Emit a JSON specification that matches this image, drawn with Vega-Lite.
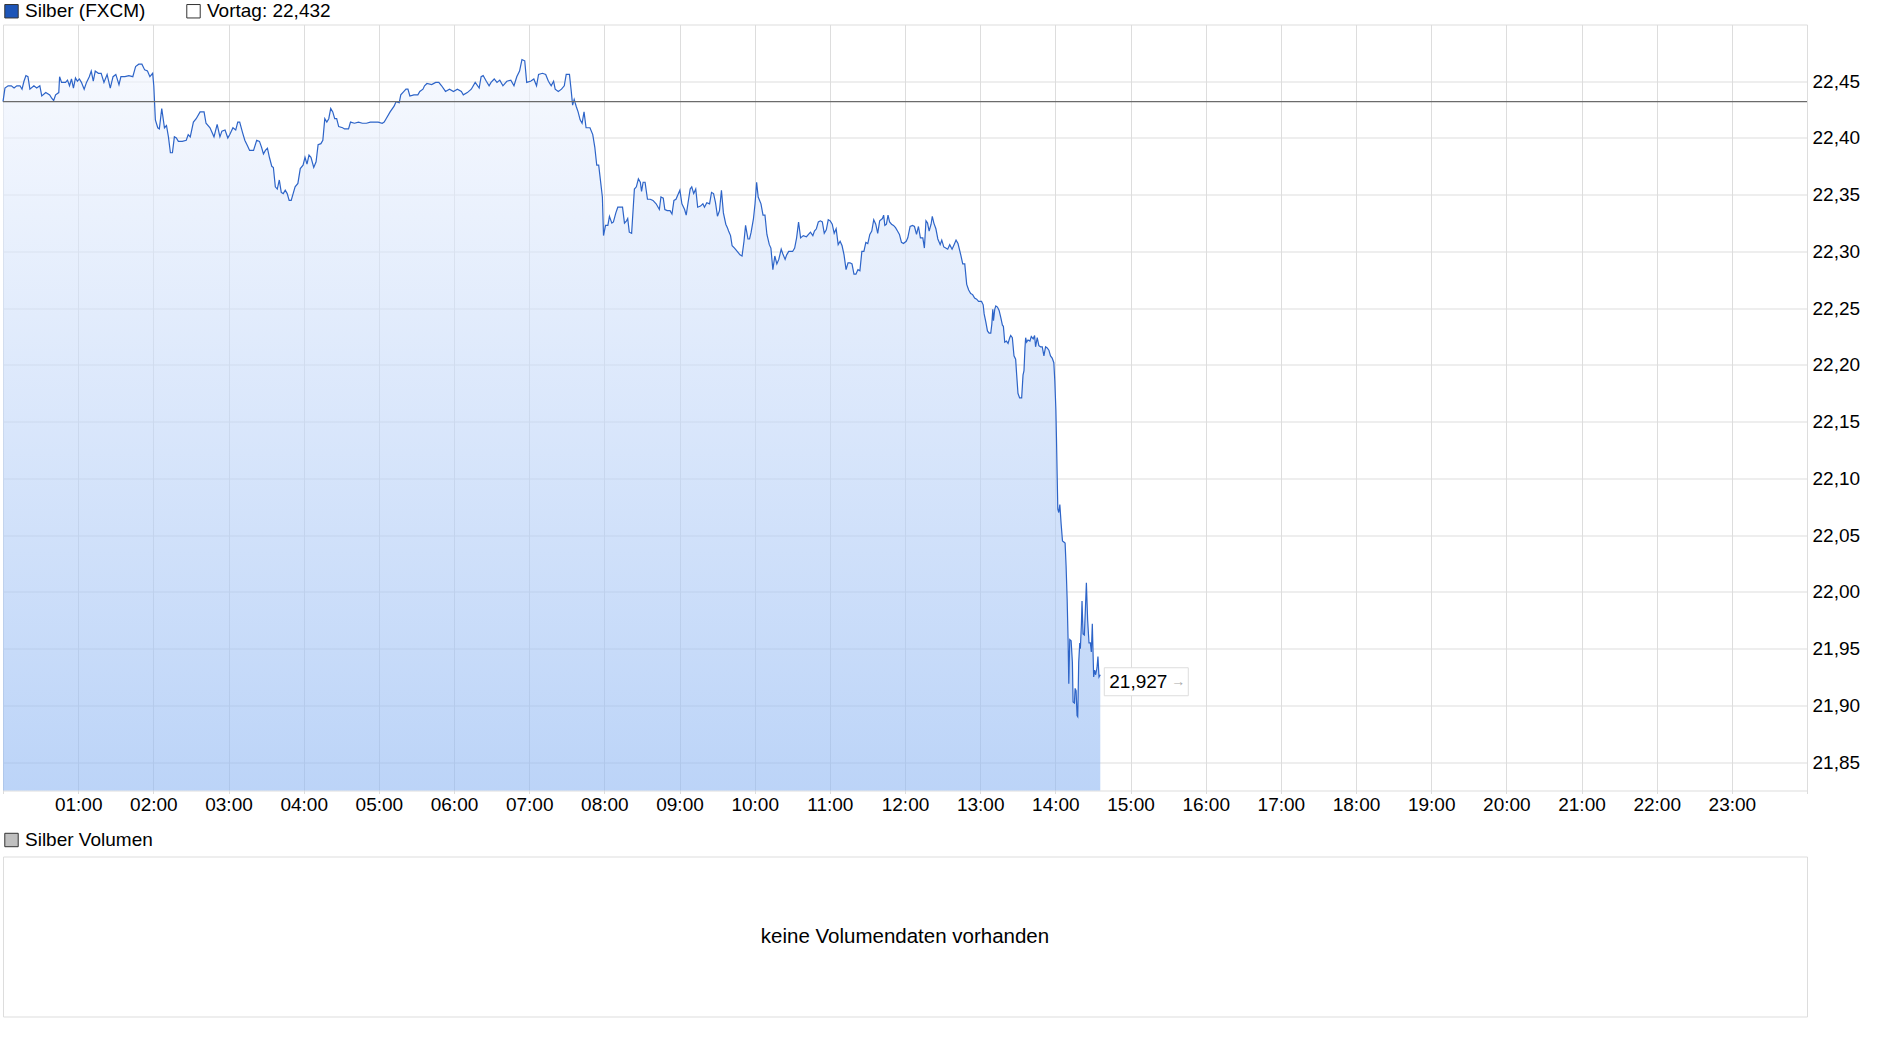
{
  "$schema": "https://vega.github.io/schema/vega-lite/v6.json",
  "background": "white",
  "padding": {"left": 0, "top": 0.5, "right": 0, "bottom": 0},
  "bounds": "flush",
  "spacing": 66,
  "config": {
    "font": "Liberation Sans",
    "view": {"stroke": "#dddddd", "strokeWidth": 1},
    "axis": {"labelFont": "Liberation Sans", "labelFontSize": 19, "labelColor": "#000000", "domain": false, "gridColor": "#dddddd", "gridWidth": 1, "tickColor": "#dddddd", "title": null},
    "legend": {"labelFont": "Liberation Sans", "labelFontSize": 19, "labelColor": "#000000"}
  },
  "datasets": {
    "silber": [
      {"t":0.000,"v":22.432},{"t":0.026,"v":22.444},{"t":0.068,"v":22.446},{"t":0.111,"v":22.446},{"t":0.147,"v":22.444},{"t":0.184,"v":22.446},{"t":0.226,"v":22.446},{"t":0.253,"v":22.443},{"t":0.279,"v":22.450},{"t":0.305,"v":22.455},{"t":0.332,"v":22.454},{"t":0.358,"v":22.443},{"t":0.411,"v":22.446},{"t":0.448,"v":22.444},{"t":0.490,"v":22.446},{"t":0.516,"v":22.437},{"t":0.569,"v":22.440},{"t":0.621,"v":22.438},{"t":0.648,"v":22.435},{"t":0.674,"v":22.433},{"t":0.700,"v":22.438},{"t":0.742,"v":22.440},{"t":0.753,"v":22.454},{"t":0.779,"v":22.449},{"t":0.832,"v":22.449},{"t":0.858,"v":22.451},{"t":0.885,"v":22.446},{"t":0.911,"v":22.452},{"t":0.937,"v":22.444},{"t":0.964,"v":22.453},{"t":0.990,"v":22.450},
      {"t":1.016,"v":22.452},{"t":1.043,"v":22.449},{"t":1.080,"v":22.443},{"t":1.111,"v":22.449},{"t":1.148,"v":22.454},{"t":1.174,"v":22.459},{"t":1.201,"v":22.450},{"t":1.227,"v":22.459},{"t":1.269,"v":22.457},{"t":1.306,"v":22.457},{"t":1.343,"v":22.449},{"t":1.385,"v":22.456},{"t":1.427,"v":22.444},{"t":1.464,"v":22.454},{"t":1.501,"v":22.456},{"t":1.543,"v":22.447},{"t":1.569,"v":22.454},{"t":1.622,"v":22.454},{"t":1.675,"v":22.455},{"t":1.727,"v":22.454},{"t":1.764,"v":22.463},{"t":1.806,"v":22.465},{"t":1.848,"v":22.465},{"t":1.885,"v":22.460},{"t":1.922,"v":22.459},{"t":1.954,"v":22.454},{"t":1.991,"v":22.457},
      {"t":2.006,"v":22.446},{"t":2.027,"v":22.416},{"t":2.059,"v":22.409},{"t":2.080,"v":22.408},{"t":2.112,"v":22.426},{"t":2.148,"v":22.409},{"t":2.175,"v":22.411},{"t":2.201,"v":22.401},{"t":2.227,"v":22.387},{"t":2.254,"v":22.387},{"t":2.280,"v":22.401},{"t":2.306,"v":22.400},{"t":2.333,"v":22.397},{"t":2.385,"v":22.397},{"t":2.438,"v":22.398},{"t":2.464,"v":22.403},{"t":2.491,"v":22.401},{"t":2.533,"v":22.414},{"t":2.570,"v":22.417},{"t":2.622,"v":22.423},{"t":2.675,"v":22.423},{"t":2.701,"v":22.413},{"t":2.754,"v":22.409},{"t":2.807,"v":22.401},{"t":2.849,"v":22.412},{"t":2.886,"v":22.401},{"t":2.912,"v":22.406},{"t":2.954,"v":22.407},{"t":2.991,"v":22.400},
      {"t":3.017,"v":22.403},{"t":3.059,"v":22.409},{"t":3.096,"v":22.407},{"t":3.123,"v":22.414},{"t":3.149,"v":22.414},{"t":3.186,"v":22.405},{"t":3.217,"v":22.398},{"t":3.254,"v":22.393},{"t":3.281,"v":22.389},{"t":3.333,"v":22.389},{"t":3.375,"v":22.398},{"t":3.412,"v":22.397},{"t":3.439,"v":22.392},{"t":3.465,"v":22.386},{"t":3.491,"v":22.389},{"t":3.518,"v":22.391},{"t":3.544,"v":22.383},{"t":3.576,"v":22.375},{"t":3.597,"v":22.374},{"t":3.623,"v":22.357},{"t":3.649,"v":22.355},{"t":3.676,"v":22.363},{"t":3.702,"v":22.352},{"t":3.728,"v":22.351},{"t":3.755,"v":22.354},{"t":3.781,"v":22.351},{"t":3.807,"v":22.345},{"t":3.834,"v":22.345},{"t":3.860,"v":22.351},{"t":3.886,"v":22.357},{"t":3.923,"v":22.360},{"t":3.955,"v":22.373},{"t":3.992,"v":22.376},
      {"t":4.018,"v":22.383},{"t":4.044,"v":22.377},{"t":4.071,"v":22.385},{"t":4.097,"v":22.383},{"t":4.134,"v":22.374},{"t":4.165,"v":22.379},{"t":4.192,"v":22.394},{"t":4.229,"v":22.395},{"t":4.255,"v":22.398},{"t":4.281,"v":22.417},{"t":4.308,"v":22.414},{"t":4.334,"v":22.417},{"t":4.360,"v":22.426},{"t":4.387,"v":22.423},{"t":4.413,"v":22.417},{"t":4.439,"v":22.417},{"t":4.466,"v":22.410},{"t":4.518,"v":22.409},{"t":4.544,"v":22.408},{"t":4.597,"v":22.408},{"t":4.623,"v":22.414},{"t":4.676,"v":22.413},{"t":4.729,"v":22.414},{"t":4.781,"v":22.413},{"t":4.834,"v":22.413},{"t":4.887,"v":22.414},{"t":4.939,"v":22.414},{"t":4.992,"v":22.414},
      {"t":5.045,"v":22.413},{"t":5.071,"v":22.414},{"t":5.097,"v":22.417},{"t":5.150,"v":22.423},{"t":5.203,"v":22.428},{"t":5.229,"v":22.432},{"t":5.271,"v":22.431},{"t":5.292,"v":22.438},{"t":5.334,"v":22.441},{"t":5.361,"v":22.443},{"t":5.387,"v":22.443},{"t":5.413,"v":22.437},{"t":5.466,"v":22.438},{"t":5.519,"v":22.438},{"t":5.545,"v":22.441},{"t":5.587,"v":22.443},{"t":5.608,"v":22.446},{"t":5.640,"v":22.448},{"t":5.703,"v":22.447},{"t":5.756,"v":22.449},{"t":5.798,"v":22.449},{"t":5.835,"v":22.446},{"t":5.887,"v":22.441},{"t":5.940,"v":22.443},{"t":5.993,"v":22.441},
      {"t":6.045,"v":22.443},{"t":6.098,"v":22.441},{"t":6.124,"v":22.438},{"t":6.177,"v":22.440},{"t":6.230,"v":22.443},{"t":6.282,"v":22.449},{"t":6.335,"v":22.444},{"t":6.361,"v":22.454},{"t":6.388,"v":22.455},{"t":6.430,"v":22.450},{"t":6.467,"v":22.446},{"t":6.493,"v":22.449},{"t":6.535,"v":22.452},{"t":6.572,"v":22.449},{"t":6.609,"v":22.451},{"t":6.651,"v":22.446},{"t":6.703,"v":22.450},{"t":6.756,"v":22.451},{"t":6.798,"v":22.446},{"t":6.835,"v":22.454},{"t":6.872,"v":22.459},{"t":6.904,"v":22.469},{"t":6.941,"v":22.468},{"t":6.967,"v":22.449},
      {"t":7.019,"v":22.450},{"t":7.062,"v":22.452},{"t":7.098,"v":22.446},{"t":7.125,"v":22.456},{"t":7.177,"v":22.457},{"t":7.220,"v":22.456},{"t":7.256,"v":22.450},{"t":7.293,"v":22.446},{"t":7.325,"v":22.450},{"t":7.346,"v":22.443},{"t":7.388,"v":22.441},{"t":7.430,"v":22.443},{"t":7.467,"v":22.446},{"t":7.493,"v":22.456},{"t":7.536,"v":22.456},{"t":7.557,"v":22.443},{"t":7.578,"v":22.429},{"t":7.599,"v":22.434},{"t":7.625,"v":22.428},{"t":7.651,"v":22.423},{"t":7.678,"v":22.416},{"t":7.704,"v":22.413},{"t":7.730,"v":22.423},{"t":7.757,"v":22.409},{"t":7.809,"v":22.409},{"t":7.846,"v":22.403},{"t":7.873,"v":22.392},{"t":7.899,"v":22.376},{"t":7.925,"v":22.376},{"t":7.974,"v":22.348},{"t":7.989,"v":22.314},
      {"t":8.016,"v":22.323},{"t":8.047,"v":22.323},{"t":8.068,"v":22.331},{"t":8.100,"v":22.325},{"t":8.121,"v":22.326},{"t":8.153,"v":22.334},{"t":8.179,"v":22.339},{"t":8.216,"v":22.339},{"t":8.242,"v":22.339},{"t":8.268,"v":22.325},{"t":8.295,"v":22.327},{"t":8.311,"v":22.329},{"t":8.332,"v":22.317},{"t":8.363,"v":22.316},{"t":8.400,"v":22.355},{"t":8.426,"v":22.357},{"t":8.453,"v":22.364},{"t":8.479,"v":22.361},{"t":8.495,"v":22.353},{"t":8.516,"v":22.361},{"t":8.542,"v":22.361},{"t":8.574,"v":22.346},{"t":8.611,"v":22.346},{"t":8.647,"v":22.345},{"t":8.689,"v":22.342},{"t":8.732,"v":22.337},{"t":8.753,"v":22.348},{"t":8.784,"v":22.347},{"t":8.805,"v":22.337},{"t":8.837,"v":22.336},{"t":8.874,"v":22.336},{"t":8.900,"v":22.333},{"t":8.926,"v":22.345},{"t":8.953,"v":22.346},{"t":8.979,"v":22.350},
      {"t":9.005,"v":22.354},{"t":9.032,"v":22.342},{"t":9.068,"v":22.337},{"t":9.089,"v":22.332},{"t":9.121,"v":22.346},{"t":9.142,"v":22.355},{"t":9.163,"v":22.357},{"t":9.189,"v":22.351},{"t":9.216,"v":22.355},{"t":9.242,"v":22.339},{"t":9.279,"v":22.340},{"t":9.311,"v":22.342},{"t":9.332,"v":22.339},{"t":9.363,"v":22.343},{"t":9.400,"v":22.342},{"t":9.426,"v":22.352},{"t":9.453,"v":22.351},{"t":9.479,"v":22.343},{"t":9.505,"v":22.331},{"t":9.532,"v":22.336},{"t":9.558,"v":22.354},{"t":9.584,"v":22.334},{"t":9.616,"v":22.324},{"t":9.637,"v":22.321},{"t":9.653,"v":22.318},{"t":9.679,"v":22.314},{"t":9.700,"v":22.305},{"t":9.732,"v":22.303},{"t":9.768,"v":22.300},{"t":9.805,"v":22.297},{"t":9.832,"v":22.296},{"t":9.858,"v":22.309},{"t":9.879,"v":22.323},{"t":9.911,"v":22.311},{"t":9.932,"v":22.311},{"t":9.953,"v":22.317},{"t":9.984,"v":22.329},
      {"t":10.005,"v":22.342},{"t":10.026,"v":22.361},{"t":10.047,"v":22.348},{"t":10.084,"v":22.342},{"t":10.111,"v":22.332},{"t":10.137,"v":22.332},{"t":10.163,"v":22.315},{"t":10.195,"v":22.306},{"t":10.216,"v":22.303},{"t":10.242,"v":22.284},{"t":10.268,"v":22.296},{"t":10.295,"v":22.289},{"t":10.321,"v":22.293},{"t":10.353,"v":22.302},{"t":10.374,"v":22.298},{"t":10.405,"v":22.293},{"t":10.426,"v":22.297},{"t":10.453,"v":22.300},{"t":10.505,"v":22.300},{"t":10.532,"v":22.303},{"t":10.558,"v":22.312},{"t":10.584,"v":22.326},{"t":10.611,"v":22.312},{"t":10.647,"v":22.314},{"t":10.689,"v":22.313},{"t":10.742,"v":22.317},{"t":10.774,"v":22.314},{"t":10.795,"v":22.318},{"t":10.821,"v":22.320},{"t":10.847,"v":22.326},{"t":10.874,"v":22.327},{"t":10.900,"v":22.326},{"t":10.926,"v":22.316},{"t":10.953,"v":22.319},{"t":10.979,"v":22.328},
      {"t":11.005,"v":22.327},{"t":11.032,"v":22.324},{"t":11.058,"v":22.316},{"t":11.084,"v":22.320},{"t":11.111,"v":22.306},{"t":11.137,"v":22.309},{"t":11.163,"v":22.305},{"t":11.189,"v":22.297},{"t":11.216,"v":22.284},{"t":11.242,"v":22.290},{"t":11.268,"v":22.290},{"t":11.295,"v":22.289},{"t":11.321,"v":22.280},{"t":11.347,"v":22.280},{"t":11.374,"v":22.284},{"t":11.400,"v":22.283},{"t":11.426,"v":22.300},{"t":11.453,"v":22.300},{"t":11.479,"v":22.308},{"t":11.505,"v":22.307},{"t":11.532,"v":22.315},{"t":11.558,"v":22.318},{"t":11.584,"v":22.328},{"t":11.611,"v":22.324},{"t":11.637,"v":22.316},{"t":11.663,"v":22.327},{"t":11.700,"v":22.329},{"t":11.716,"v":22.332},{"t":11.732,"v":22.323},{"t":11.753,"v":22.324},{"t":11.774,"v":22.332},{"t":11.795,"v":22.326},{"t":11.821,"v":22.324},{"t":11.847,"v":22.323},{"t":11.874,"v":22.321},{"t":11.900,"v":22.318},{"t":11.926,"v":22.315},{"t":11.953,"v":22.308},{"t":11.979,"v":22.307},
      {"t":12.016,"v":22.309},{"t":12.037,"v":22.312},{"t":12.068,"v":22.322},{"t":12.100,"v":22.323},{"t":12.126,"v":22.322},{"t":12.153,"v":22.315},{"t":12.179,"v":22.322},{"t":12.205,"v":22.312},{"t":12.237,"v":22.312},{"t":12.258,"v":22.303},{"t":12.279,"v":22.327},{"t":12.300,"v":22.325},{"t":12.321,"v":22.318},{"t":12.347,"v":22.324},{"t":12.363,"v":22.331},{"t":12.384,"v":22.325},{"t":12.411,"v":22.320},{"t":12.437,"v":22.311},{"t":12.468,"v":22.306},{"t":12.489,"v":22.310},{"t":12.516,"v":22.304},{"t":12.542,"v":22.303},{"t":12.568,"v":22.302},{"t":12.595,"v":22.306},{"t":12.626,"v":22.302},{"t":12.653,"v":22.306},{"t":12.679,"v":22.310},{"t":12.705,"v":22.307},{"t":12.742,"v":22.297},{"t":12.768,"v":22.289},{"t":12.795,"v":22.289},{"t":12.821,"v":22.271},{"t":12.847,"v":22.266},{"t":12.874,"v":22.263},{"t":12.900,"v":22.262},{"t":12.926,"v":22.259},{"t":12.953,"v":22.258},{"t":12.979,"v":22.256},
      {"t":13.005,"v":22.256},{"t":13.018,"v":22.256},{"t":13.040,"v":22.253},{"t":13.053,"v":22.245},{"t":13.075,"v":22.238},{"t":13.097,"v":22.230},{"t":13.119,"v":22.228},{"t":13.141,"v":22.228},{"t":13.155,"v":22.236},{"t":13.168,"v":22.249},{"t":13.177,"v":22.239},{"t":13.194,"v":22.249},{"t":13.208,"v":22.252},{"t":13.230,"v":22.251},{"t":13.252,"v":22.248},{"t":13.274,"v":22.242},{"t":13.296,"v":22.235},{"t":13.309,"v":22.234},{"t":13.327,"v":22.220},{"t":13.349,"v":22.221},{"t":13.371,"v":22.219},{"t":13.393,"v":22.224},{"t":13.406,"v":22.226},{"t":13.428,"v":22.224},{"t":13.450,"v":22.208},{"t":13.472,"v":22.205},{"t":13.486,"v":22.191},{"t":13.503,"v":22.175},{"t":13.525,"v":22.171},{"t":13.552,"v":22.171},{"t":13.570,"v":22.191},{"t":13.583,"v":22.195},{"t":13.596,"v":22.215},{"t":13.605,"v":22.224},{"t":13.618,"v":22.220},{"t":13.636,"v":22.222},{"t":13.662,"v":22.221},{"t":13.680,"v":22.225},{"t":13.706,"v":22.223},{"t":13.724,"v":22.226},{"t":13.737,"v":22.216},{"t":13.759,"v":22.224},{"t":13.781,"v":22.217},{"t":13.804,"v":22.216},{"t":13.826,"v":22.216},{"t":13.848,"v":22.208},{"t":13.870,"v":22.216},{"t":13.892,"v":22.215},{"t":13.914,"v":22.213},{"t":13.936,"v":22.208},{"t":13.958,"v":22.206},{"t":13.980,"v":22.202},{"t":13.993,"v":22.186},
      {"t":14.007,"v":22.161},{"t":14.015,"v":22.136},{"t":14.024,"v":22.104},{"t":14.033,"v":22.073},{"t":14.046,"v":22.070},{"t":14.060,"v":22.077},{"t":14.077,"v":22.060},{"t":14.095,"v":22.045},{"t":14.113,"v":22.044},{"t":14.130,"v":22.043},{"t":14.143,"v":22.023},{"t":14.157,"v":21.994},{"t":14.170,"v":21.957},{"t":14.179,"v":21.919},{"t":14.192,"v":21.958},{"t":14.210,"v":21.957},{"t":14.227,"v":21.938},{"t":14.236,"v":21.903},{"t":14.254,"v":21.902},{"t":14.263,"v":21.915},{"t":14.276,"v":21.913},{"t":14.289,"v":21.891},{"t":14.298,"v":21.890},{"t":14.311,"v":21.938},{"t":14.325,"v":21.955},{"t":14.333,"v":21.950},{"t":14.347,"v":21.972},{"t":14.355,"v":21.992},{"t":14.369,"v":21.963},{"t":14.386,"v":21.962},{"t":14.400,"v":21.985},{"t":14.413,"v":22.008},{"t":14.430,"v":21.975},{"t":14.448,"v":21.955},{"t":14.466,"v":21.955},{"t":14.479,"v":21.947},{"t":14.492,"v":21.972},{"t":14.510,"v":21.925},{"t":14.523,"v":21.931},{"t":14.536,"v":21.927},{"t":14.554,"v":21.933},{"t":14.567,"v":21.943},{"t":14.581,"v":21.925},{"t":14.598,"v":21.927}
    ]
  },
  "vconcat": [
    {
      "width": 1804,
      "height": 766,
      "layer": [
        {
          "data": {"name": "silber"},
          "mark": {
            "type": "area",
            "fillOpacity": 0.6,
            "color": {"gradient": "linear", "x1": 0, "y1": 0, "x2": 0, "y2": 1, "stops": [{"offset": 0, "color": "#f1f5fe"}, {"offset": 1, "color": "#8fb7f3"}]}
          },
          "encoding": {
            "x": {
              "field": "t", "type": "quantitative",
              "scale": {"domain": [0, 24], "nice": false, "zero": false},
              "axis": {"values": [0,1,2,3,4,5,6,7,8,9,10,11,12,13,14,15,16,17,18,19,20,21,22,23,24], "labelExpr": "datum.value == 0 || datum.value == 24 ? '' : (datum.value < 10 ? '0' : '') + datum.value + ':00'", "tickSize": 3, "labelPadding": 2, "grid": true, "labelFlush": false, "labelOverlap": false}
            },
            "y": {
              "field": "v", "type": "quantitative",
              "scale": {"domain": [21.825, 22.5], "nice": false, "zero": false},
              "axis": {"orient": "right", "values": [21.85,21.9,21.95,22.0,22.05,22.1,22.15,22.2,22.25,22.3,22.35,22.4,22.45], "labelExpr": "replace(format(datum.value, '.2f'), '.', ',')", "ticks": false, "labelPadding": 5, "grid": true, "labelOverlap": false}
            },
            "y2": {"datum": 21.825}
          }
        },
        {
          "data": {"name": "silber"},
          "mark": {"type": "line", "color": "#2d64c8", "strokeWidth": 1.2},
          "encoding": {
            "x": {"field": "t", "type": "quantitative"},
            "y": {"field": "v", "type": "quantitative"}
          }
        },
        {
          "data": {"values": [{"vortag": 22.432}]},
          "mark": {"type": "rule", "color": "#6b6b6b", "strokeWidth": 1.2},
          "encoding": {"y": {"field": "vortag", "type": "quantitative"}}
        },
        {
          "data": {"values": [{"t": 14.598, "v": 21.927, "label": "21,927", "arrow": "→"}]},
          "layer": [
            {
              "mark": {"type": "rect", "fill": "#ffffff", "stroke": "#dddddd", "strokeWidth": 1, "xOffset": 4, "x2Offset": 88, "yOffset": -7, "y2Offset": 21},
              "encoding": {
                "x": {"field": "t", "type": "quantitative"},
                "x2": {"field": "t"},
                "y": {"field": "v", "type": "quantitative"},
                "y2": {"field": "v"}
              }
            },
            {
              "mark": {"type": "text", "align": "left", "baseline": "middle", "dx": 9, "dy": 7, "fontSize": 19, "color": "#000000"},
              "encoding": {
                "x": {"field": "t", "type": "quantitative"},
                "y": {"field": "v", "type": "quantitative"},
                "text": {"field": "label"}
              }
            },
            {
              "mark": {"type": "text", "align": "center", "baseline": "middle", "dx": 78, "dy": 7, "fontSize": 14, "color": "#aaaaaa"},
              "encoding": {
                "x": {"field": "t", "type": "quantitative"},
                "y": {"field": "v", "type": "quantitative"},
                "text": {"field": "arrow"}
              }
            }
          ]
        },
        {
          "data": {"values": [{"leg": "Silber (FXCM)"}, {"leg": "Vortag: 22,432"}]},
          "mark": {"type": "point", "shape": "square", "filled": true, "opacity": 0},
          "encoding": {
            "color": {
              "field": "leg", "type": "nominal",
              "scale": {"domain": ["Silber (FXCM)", "Vortag: 22,432"], "range": ["#1d55b8", "#ffffff"]},
              "legend": {"orient": "none", "legendX": -1, "legendY": -23, "direction": "horizontal", "title": null, "symbolType": "square", "symbolSize": 180, "symbolOpacity": 1, "symbolStrokeColor": "#333333", "symbolStrokeWidth": 1, "labelOffset": 4, "columnPadding": 38, "padding": 0, "labelFontSize": 19,
                "encode": {"symbols": {"update": {"stroke": {"value": "#333333"}, "strokeWidth": {"value": 1}, "opacity": {"value": 1}}}}}
            }
          }
        }
      ]
    },
    {
      "width": 1804,
      "height": 160,
      "layer": [
        {
          "data": {"values": [{"x": 12, "y": 0.5, "msg": "keine Volumendaten vorhanden"}]},
          "mark": {"type": "text", "align": "center", "baseline": "middle", "fontSize": 20.5, "color": "#000000"},
          "encoding": {
            "x": {"field": "x", "type": "quantitative", "scale": {"domain": [0, 24], "nice": false, "zero": false}, "axis": null},
            "y": {"field": "y", "type": "quantitative", "scale": {"domain": [0, 1], "nice": false}, "axis": null},
            "text": {"field": "msg"}
          }
        },
        {
          "data": {"values": [{"leg": "Silber Volumen"}]},
          "mark": {"type": "point", "shape": "square", "filled": true, "opacity": 0},
          "encoding": {
            "color": {
              "field": "leg", "type": "nominal",
              "scale": {"domain": ["Silber Volumen"], "range": ["#c0c0c0"]},
              "legend": {"orient": "none", "legendX": -1, "legendY": -26, "direction": "horizontal", "title": null, "symbolType": "square", "symbolSize": 180, "symbolOpacity": 1, "symbolStrokeColor": "#333333", "symbolStrokeWidth": 1, "labelOffset": 4, "padding": 0, "labelFontSize": 19,
                "encode": {"symbols": {"update": {"stroke": {"value": "#333333"}, "strokeWidth": {"value": 1}, "opacity": {"value": 1}}}}}
            }
          }
        }
      ]
    }
  ],
  "resolve": {"scale": {"color": "independent"}, "legend": {"color": "independent"}}
}
